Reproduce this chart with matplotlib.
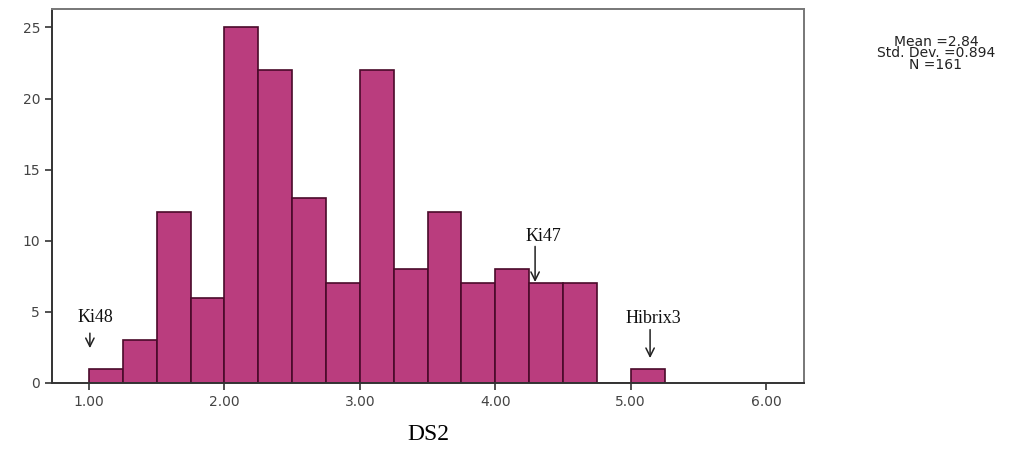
import matplotlib
matplotlib.use("Agg")
import matplotlib.pyplot as plt
import numpy as np

# histogram bins (DS2, width 0.25) and counts
bin_edges = [1.00, 1.25, 1.50, 1.75, 2.00, 2.25, 2.50, 2.75, 3.00, 3.25,
             3.50, 3.75, 4.00, 4.25, 4.50, 4.75, 5.00, 5.25]
counts = [1, 3, 12, 6, 25, 22, 13, 7, 22, 8, 12, 7, 8, 7, 7, 0, 1]
x_ticks = [1, 2, 3, 4, 5, 6]
x_tick_labels = ["1.00", "2.00", "3.00", "4.00", "5.00", "6.00"]
y_ticks = [0, 5, 10, 15, 20, 25]

# labelled points: (name, arrow x, arrow head y, arrow tail y, text x, text baseline y)
notes = [("Ki48", 1.007, 2.45, 3.5, 1.044, 4.3),
         ("Ki47", 4.294, 7.1, 9.6, 4.353, 9.95),
         ("Hibrix3", 5.143, 1.75, 3.75, 5.17, 4.25)]

stats_text = "Mean =2.84\nStd. Dev. =0.894\nN =161"

fig = plt.figure(figsize=(10.15, 4.5), dpi=100)
ax = fig.add_axes([0.0512, 0.149, 0.741, 0.831])

lefts = np.array(bin_edges[:-1])
widths = np.diff(bin_edges)
ax.bar(lefts, counts, width=widths, align="edge",
       color="#BA3D7E", edgecolor="#4A0A2A", linewidth=1.2)

ax.set_xlim(0.727, 6.28)
ax.set_ylim(0, 26.3)
ax.set_xticks(x_ticks)
ax.set_xticklabels(x_tick_labels)
ax.set_yticks(y_ticks)

for s in ax.spines.values():
    s.set_color("#777777")
    s.set_linewidth(1.4)
ax.spines["left"].set_color("#333333")
ax.spines["bottom"].set_color("#333333")

ax.tick_params(direction="out", length=5, width=1.2, color="#333333",
               labelsize=10, labelcolor="#444444", top=False, right=False)
for lab in ax.get_xticklabels() + ax.get_yticklabels():
    lab.set_family("DejaVu Sans")

ax.set_xlabel("DS2", family="Liberation Serif", fontsize=17, labelpad=11)

for name, ax_x, y_head, y_tail, tx, ty in notes:
    ax.annotate("", xy=(ax_x, y_head), xytext=(ax_x, y_tail),
                arrowprops=dict(arrowstyle="->,head_length=0.6,head_width=0.3",
                                color="#222222", lw=1.1, shrinkA=0, shrinkB=0))
    ax.text(tx, ty, name, ha="center", va="baseline",
            family="Liberation Serif", fontsize=13, color="#111111")

fig.text(0.922, 0.922, stats_text, ha="center", va="top",
         family="DejaVu Sans", fontsize=10, color="#222222",
         linespacing=0.75)

fig.savefig("out.png", dpi=100)
